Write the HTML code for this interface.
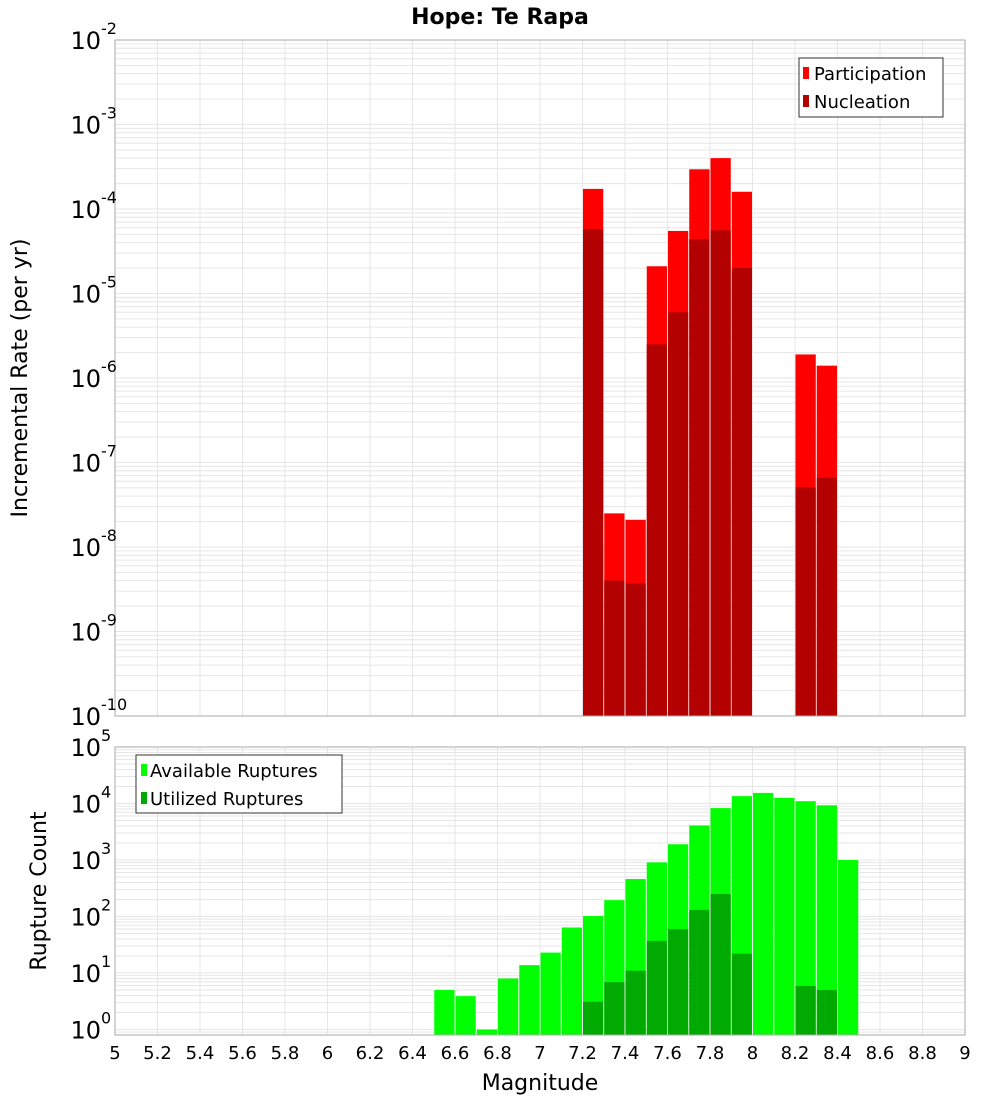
<!DOCTYPE html>
<html><head><meta charset="utf-8"><style>
body{margin:0;background:#fff;font-family:"Liberation Sans","DejaVu Sans",sans-serif}
</style></head><body>
<svg id="c" width="1000" height="1100" xmlns="http://www.w3.org/2000/svg" font-family="DejaVu Sans, Liberation Sans, sans-serif">
<text x="500" y="24" text-anchor="middle" font-size="22" font-weight="bold">Hope: Te Rapa</text>
<g id="top"></g>
<g id="bot"></g>
<text transform="translate(27,378) rotate(-90)" text-anchor="middle" font-size="22">Incremental Rate (per yr)</text>
<text transform="translate(46,891) rotate(-90)" text-anchor="middle" font-size="22">Rupture Count</text>
<text x="540" y="1090" text-anchor="middle" font-size="22">Magnitude</text>
<g>
<rect x="799" y="58" width="144" height="59" fill="#fff" stroke="#333"/>
<rect x="803" y="67" width="6" height="12" fill="#ff0000"/>
<text x="814" y="80" font-size="18">Participation</text>
<rect x="803" y="95" width="6" height="12" fill="#b30000"/>
<text x="814" y="108" font-size="18">Nucleation</text>
</g>
<g>
<rect x="136" y="755" width="206" height="58" fill="#fff" stroke="#333"/>
<rect x="141" y="764" width="6" height="12" fill="#00ff00"/>
<text x="150" y="777" font-size="18">Available Ruptures</text>
<rect x="141" y="792" width="6" height="12" fill="#00aa00"/>
<text x="150" y="805" font-size="18">Utilized Ruptures</text>
</g>
</svg>
<script>
const mags=[7.25,7.35,7.45,7.55,7.65,7.75,7.85,7.95,8.25,8.35];
const participation=[1.73e-4,2.5e-8,2.1e-8,2.1e-5,5.5e-5,2.95e-4,4e-4,1.6e-4,1.9e-6,1.4e-6];
const nucleation=[5.8e-5,4e-9,3.7e-9,2.5e-6,6e-6,4.4e-5,5.6e-5,2e-5,5.1e-8,6.6e-8];
const countMags=[6.55,6.65,6.75,6.85,6.95,7.05,7.15,7.25,7.35,7.45,7.55,7.65,7.75,7.85,7.95,8.05,8.15,8.25,8.35,8.45];
const available=[5,3.9,1.0,8,13.8,23,64,102,195,460,910,1900,4100,8300,13500,15400,12600,11000,9300,1000];
const utilMags=[7.25,7.35,7.45,7.55,7.65,7.75,7.85,7.95,8.25,8.35];
const utilized=[3.1,6.9,11,37,60,131,250,22,5.9,5];
const xTicks=[5,5.2,5.4,5.6,5.8,6,6.2,6.4,6.6,6.8,7,7.2,7.4,7.6,7.8,8,8.2,8.4,8.6,8.8,9];
const topExps=[-10,-9,-8,-7,-6,-5,-4,-3,-2];
const botExps=[0,1,2,3,4,5];
const NS="http://www.w3.org/2000/svg";
const X0=115,X1=965;
const xs=m=>X0+(m-5)/4*(X1-X0);
function mk(p,t,a){const e=document.createElementNS(NS,t);for(const k in a)e.setAttribute(k,a[k]);p.appendChild(e);return e;}
function panel(g,top,bot,lmin,lmax,name){
  const ys=v=>bot-(Math.log10(v)-lmin)/(lmax-lmin)*(bot-top);
  mk(g,'rect',{x:X0,y:top,width:X1-X0,height:bot-top,fill:'#fff'});
  for(let e=Math.floor(lmin);e<lmax;e++)for(let k=1;k<10;k++){const v=k*Math.pow(10,e);if(Math.log10(v)<lmin||Math.log10(v)>lmax)continue;const y=ys(v);
    const l=mk(g,'line',{x1:X0,x2:X1,y1:y,y2:y,stroke:'#e6e6e6','stroke-width':1});
    
    }
  xTicks.forEach(t=>{const x=xs(t);
    const l=mk(g,'line',{x1:x,x2:x,y1:top,y2:bot,stroke:'#e6e6e6','stroke-width':1});
    
    });
  return ys;
}
function bars(g,ms,vals,ys,bot,color,name){
  ms.forEach((m,i)=>{const x=xs(m-0.05),w=xs(m+0.05)-x;const y=ys(vals[i]);
    const r=mk(g,'rect',{x:x+0.5,y:y,width:w-1,height:bot-y,fill:color});
    
    });
}
function ylabels(ys,exps,name){
  const svg=document.getElementById('c');
  exps.forEach(e=>{const y=ys(Math.pow(10,e));
    const t=mk(svg,'text',{x:101,y:y+9,'text-anchor':'end','font-size':24});
    t.textContent='10';
    
    
    const s=mk(svg,'text',{x:101,y:y-6,'font-size':16});
    s.textContent=String(e);
    
    });
}
const gt=document.getElementById('top');
const ysT=panel(gt,40,716,-10,-2,'top');
bars(gt,mags,participation,ysT,716,'#ff0000','participation-bar');
bars(gt,mags,nucleation,ysT,716,'#b30000','nucleation-bar');
mk(gt,'rect',{x:X0,y:40,width:X1-X0,height:676,fill:'none',stroke:'#aaa'});
ylabels(ysT,topExps,'top-y');
const gb=document.getElementById('bot');
const lminB=Math.log10(0.8);
const ysB=panel(gb,747,1035,lminB,5,'bottom');
bars(gb,countMags,available,ysB,1035,'#00ff00','available-bar');
bars(gb,utilMags,utilized,ysB,1035,'#00aa00','utilized-bar');
mk(gb,'rect',{x:X0,y:747,width:X1-X0,height:288,fill:'none',stroke:'#aaa'});
ylabels(ysB,botExps,'bottom-y');
const svg=document.getElementById('c');
xTicks.forEach(t=>{const tx=mk(svg,'text',{x:xs(t),y:1059,'text-anchor':'middle','font-size':18});
  tx.textContent=String(t);
  
  });
</script>
</body></html>
